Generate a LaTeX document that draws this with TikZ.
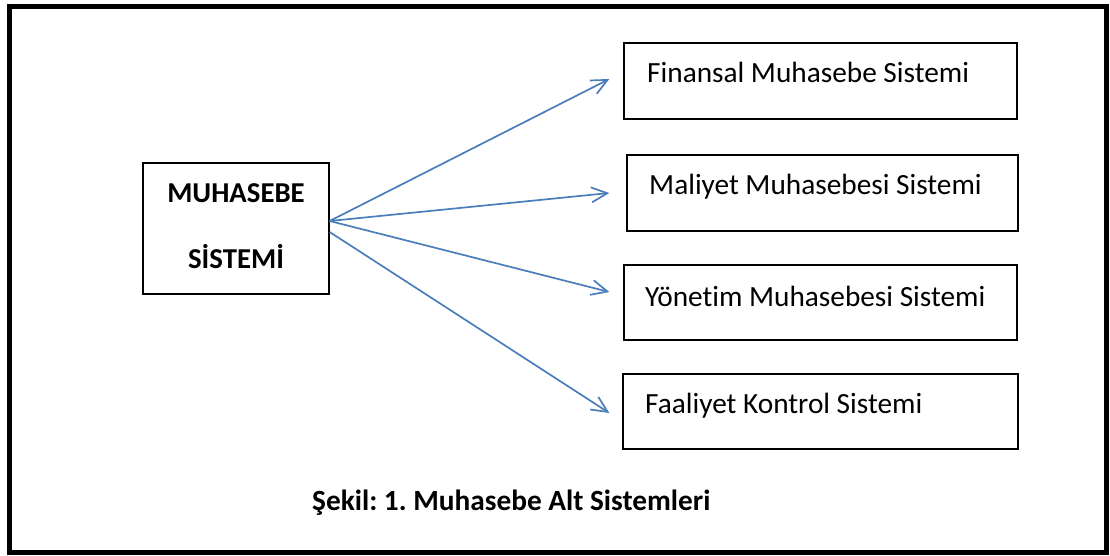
\documentclass[tikz,border=0pt]{standalone}
\usepackage{fontspec}
\setmainfont{Carlito}[Ligatures=NoCommon]
\usetikzlibrary{arrows.meta,calc}
\definecolor{arrowblue}{HTML}{4A7EBB}
\frenchspacing
\begin{document}
\begin{tikzpicture}[x=1pt,y=-1pt,
  box/.style={draw=black, line width=1.3pt, inner sep=0pt},
  lbl/.style={anchor=base west, inner sep=0pt, font=\fontsize{29.3}{34}\selectfont},
  title/.style={anchor=base, inner sep=0pt, font=\fontsize{28.8}{34}\selectfont\bfseries},
  link/.style={draw=arrowblue, line width=1.7pt,
    -{Straight Barb[length=16pt,width=15pt,line width=1.7pt]}}]
\useasboundingbox (0,0) rectangle (1110,555);
% outer frame
\draw[line width=5pt] (9.5,6) rectangle (1106,552.5);

% main system box
\node[box, minimum width=186pt, minimum height=131pt] (main) at (236,228.5) {};
\node[title] (mainA) at (236,202) {MUHASEBE};
\node[title] (mainB) at (236,268) {SİSTEMİ};

% subsystem boxes
\node[box, minimum width=393pt, minimum height=76pt] (fin) at (820.5,81) {};
\node[box, minimum width=391pt, minimum height=76pt] (mal) at (822.5,193) {};
\node[box, minimum width=393pt, minimum height=75pt] (yon) at (820.5,302.5) {};
\node[box, minimum width=395pt, minimum height=75pt] (faa) at (820.5,411.5) {};

\node[lbl] (finT) at (647,82) {Finansal Muhasebe Sistemi};
\node[lbl] (malT) at (649,194) {Maliyet Muhasebesi Sistemi};
\node[lbl] (yonT) at (645,306) {Yönetim Muhasebesi Sistemi};
\node[lbl] (faaT) at (645,413) {Faaliyet Kontrol Sistemi};

% connectors
\draw[link] ($(main.east)+(0,-7.5)$) -- ($(fin.west)+(-14,-2)$);
\draw[link] ($(main.east)+(0,-7.5)$) -- ($(mal.west)+(-17,0)$);
\draw[link] ($(main.east)+(0,-7.5)$) -- ($(yon.west)+(-14,-10.5)$);
\draw[link] ($(main.east)+(0,3.5)$) -- ($(faa.west)+(-13,1.5)$);

% caption
\node[anchor=base west, inner sep=0pt, font=\fontsize{29.3}{34}\selectfont\bfseries] (cap) at (312,510) {Şekil: 1. Muhasebe Alt Sistemleri};
\end{tikzpicture}
\end{document}
